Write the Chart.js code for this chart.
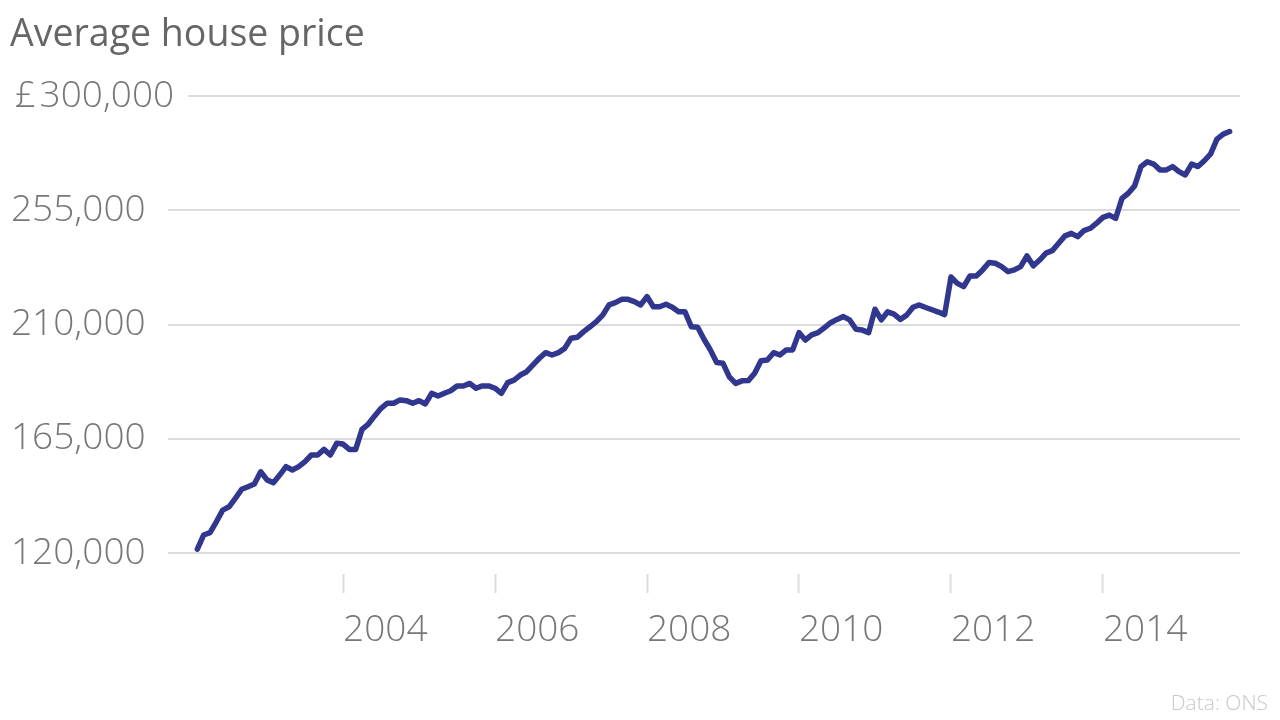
<!DOCTYPE html>
<html>
<head>
<meta charset="utf-8">
<title>Average house price</title>
<script src="https://cdn.jsdelivr.net/npm/chart.js@4.4.1/dist/chart.umd.min.js"></script>
<style>
    body { margin: 0; background: #fff; }
    #wrap { position: relative; width: 1280px; height: 720px; overflow: hidden; }
    #chart { position: absolute; left: 0; top: 0; }
    .title {
        position: absolute; left: 10px; top: 13px;
        font: 400 37.5px/37px "Open Sans", sans-serif; color: #666;
    }
    .source {
        position: absolute; right: 12px; top: 692px;
        font: 300 21px/21px "Open Sans", sans-serif; color: #c8c8c8;
    }
</style>
</head>
<body>
<div id="wrap">
    <canvas id="chart" width="1280" height="720"></canvas>
    <div class="title">Average house price</div>
    <div class="source">Data: ONS</div>
</div>
<script>
// Monthly series, Feb 2002 to Sep 2015
const startYear = 2002;
const startMonth = 2;

const prices = [
    121500, 127100, 128000, 132300, 136900, 138200, 141500, 145100, 146100, 147200, 152000,
    148800, 147700, 150700, 154000, 152700, 154000, 156000, 158600, 158600, 160800, 158600, 163200,
    162900, 160800, 160800, 168700, 170800, 174000, 177000, 179000, 179000, 180300, 180000, 179000,
    180000, 178700, 182900, 181800, 182900, 183900, 185800, 185800, 186800, 184900, 185800, 185800,
    184900, 182900, 187100, 188100, 190100, 191400, 194100, 196700, 198900, 198000, 198900, 200600,
    204600, 205000, 207200, 209100, 211100, 213700, 217700, 218600, 219900, 219900, 219000, 217700,
    221000, 217000, 217000, 218000, 216800, 215000, 215000, 209100, 208900, 204200, 200000, 195000,
    194700, 189400, 186800, 187800, 187900, 190800, 195700, 196000, 198900, 198000, 200000, 200000,
    206800, 203900, 205900, 206800, 208700, 210700, 212000, 213100, 211800, 208100, 207800, 206800,
    216000, 211800, 215000, 214100, 212000, 213700, 216800, 217700, 216700, 215800, 214900, 213900,
    228700, 226200, 224900, 229100, 229100, 231500, 234400, 234100, 232800, 230800, 231500, 232800,
    237000, 233100, 235400, 238100, 239100, 242000, 244900, 245900, 244600, 247000, 247900, 249900,
    252200, 253100, 251800, 259700, 261700, 264600, 272200, 274100, 273200, 270900, 270900, 272200,
    270200, 268900, 273200, 272200, 274500, 277200, 283000, 285000, 286000
];

const yearTicks = [2004, 2006, 2008, 2010, 2012, 2014];
const priceTicks = [120000, 165000, 210000, 255000, 300000];

const lineColor = '#31378f';
const gridColor = '#dcdcdc';
const labelColor = '#777';
const labelFont = { family: 'Open Sans', size: 37, weight: 300 };

document.addEventListener('DOMContentLoaded', function() {
    drawChart();
});

function priceLabel(value) {
    const text = value.toLocaleString('en-GB');
    // top label carries the currency sign, nudged in a little with hair spaces
    return value === 300000 ? '\u200A£\u200A' + text : text;
}

// horizontal rules that start just after each y label and run to the right edge
const labelGrid = {
    id: 'labelGrid',
    beforeDatasetsDraw: function(chart) {
        const ctx = chart.ctx;
        const yScale = chart.scales.y;
        const area = chart.chartArea;
        ctx.save();
        ctx.font = `${labelFont.weight} ${labelFont.size}px "${labelFont.family}"`;
        ctx.strokeStyle = gridColor;
        ctx.lineWidth = 2;
        yScale.ticks.forEach(tick => {
            const y = Math.round(yScale.getPixelForValue(tick.value));
            const textEnd = yScale.left + ctx.measureText(priceLabel(tick.value)).width;
            const x0 = Math.max(168, textEnd + 14);
            ctx.beginPath();
            ctx.moveTo(x0, y);
            ctx.lineTo(area.right, y);
            ctx.stroke();
        });
        ctx.restore();
    }
};

function drawChart() {
    // month index -> decimal year for the linear x scale
    const points = prices.map((v, i) => ({
        x: startYear + (startMonth - 1 + i) / 12,
        y: v
    }));

    new Chart(document.getElementById('chart'), {
        type: 'line',
        data: {
            datasets: [{
                data: points,
                borderColor: lineColor,
                borderWidth: 5.5,
                borderJoinStyle: 'round',
                borderCapStyle: 'round',
                pointRadius: 0,
                tension: 0,
                fill: false
            }]
        },
        options: {
            responsive: false,
            animation: false,
            layout: {
                padding: { top: 96, right: 40, bottom: 0, left: 11 }
            },
            plugins: {
                legend: { display: false },
                tooltip: { enabled: false }
            },
            scales: {
                x: {
                    type: 'linear',
                    min: 2001.947,
                    max: 2015.803,
                    afterBuildTicks: function(scale) {
                        scale.ticks = yearTicks.map(v => ({ value: v }));
                    },
                    afterFit: function(scale) {
                        scale.height = 167;
                    },
                    border: { display: false },
                    grid: {
                        drawOnChartArea: false,
                        drawTicks: true,
                        tickLength: 40,
                        tickWidth: 2,
                        tickColor: gridColor,
                        tickBorderDash: [19, 21],
                        tickBorderDashOffset: 19
                    },
                    ticks: {
                        align: 'start',
                        maxRotation: 0,
                        autoSkip: false,
                        padding: 15,
                        color: labelColor,
                        font: labelFont,
                        callback: function(value) {
                            return String(value);
                        }
                    }
                },
                y: {
                    min: 120000,
                    max: 300000,
                    afterBuildTicks: function(scale) {
                        scale.ticks = priceTicks.map(v => ({ value: v }));
                    },
                    afterFit: function(scale) {
                        scale.width = 176;
                    },
                    border: { display: false },
                    grid: {
                        display: false
                    },
                    ticks: {
                        crossAlign: 'far',
                        padding: 12,
                        color: labelColor,
                        font: labelFont,
                        callback: priceLabel
                    }
                }
            }
        },
        plugins: [labelGrid]
    });
}
</script>
</body>
</html>
